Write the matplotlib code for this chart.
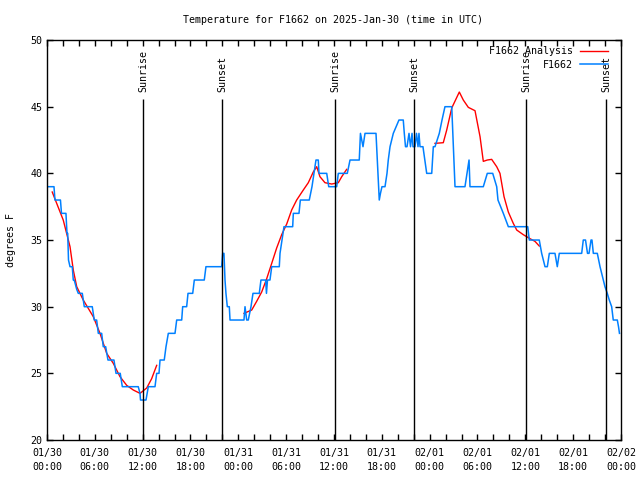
import pandas as pd
import matplotlib
matplotlib.use('Agg')
import matplotlib.pyplot as plt
import matplotlib.dates as mdates

plt.rcParams['font.family'] = 'DejaVu Sans Mono'
plt.rcParams['font.size'] = 7.2

start = pd.Timestamp('2025-01-30 00:00')

# observed temperature (hours since start, degrees F)
obs_hours = [0.13, 0.88, 1.00, 1.69, 1.82, 2.38, 2.51, 2.60, 2.70, 2.89, 3.17, 3.30, 3.42, 3.73,
             3.93, 4.43, 4.68, 5.68, 5.93, 6.23, 6.44, 6.86, 7.06, 7.36, 7.65, 8.40, 8.66, 9.19,
             9.45, 11.45, 11.67, 11.73, 12.42, 12.71, 13.55, 13.76, 14.05, 14.18, 14.71, 14.93,
             15.22, 16.06, 16.27, 16.90, 17.02, 17.52, 17.69, 18.28, 18.48, 19.73, 19.94, 21.91,
             22.04, 22.20, 22.33, 22.45, 22.62, 22.87, 22.96, 24.71, 24.84, 25.05, 25.25, 25.59,
             25.84, 26.63, 26.84, 27.43, 27.53, 27.66, 27.97, 28.19, 29.14, 29.23, 29.73, 30.82,
             30.90, 31.61, 31.78, 32.90, 33.24, 33.62, 33.74, 34.03, 34.12, 35.09, 35.34, 36.34,
             36.54, 37.67, 38.01, 39.17, 39.32, 39.64, 39.89, 41.27, 41.68, 41.83, 42.02, 42.40,
             42.65, 42.81, 43.03, 43.44, 44.15, 44.49, 44.69, 44.82, 44.97, 45.16, 45.41, 45.60,
             45.79, 45.91, 46.16, 46.35, 46.54, 46.66, 46.79, 47.16, 47.63, 48.26, 48.46, 48.67,
             49.21, 49.55, 49.92, 50.77, 51.18, 52.43, 52.94, 53.06, 54.73, 55.23, 55.91, 56.41,
             56.57, 57.24, 57.87, 60.30, 60.50, 61.75, 62.05, 62.47, 62.76, 63.01, 63.72, 64.01,
             64.26, 67.07, 67.27, 67.55, 67.80, 67.99, 68.24, 68.36, 68.53, 69.03, 69.37, 69.58,
             69.78, 69.99, 70.28, 70.53, 70.83, 71.03, 71.54, 71.69, 71.81]
obs_temp = [39, 39, 38, 38, 37, 37, 35.5, 35.5, 33.5, 33, 33, 32, 32, 31.3,
            31, 31, 30, 30, 29, 29, 28, 28, 27, 27, 26, 26, 25, 25,
            24, 24, 23.5, 23, 23, 24, 24, 25, 25, 26, 26, 27,
            28, 28, 29, 29, 30, 30, 31, 31, 32, 32, 33, 33,
            34, 34, 32, 31, 30, 30, 29, 29, 30, 29, 29, 30,
            31, 31, 32, 32, 31, 32, 32, 33, 33, 34, 36, 36,
            37, 37, 38, 38, 39, 40.5, 41, 41, 40, 40, 39, 39,
            40, 40, 41, 41, 43, 42, 43, 43, 38, 38.5, 39, 39,
            40, 41, 42, 43, 44, 44, 44, 43, 42, 42, 43, 42,
            43, 42, 42, 43, 42, 43, 42, 42, 40, 40, 42, 42,
            43, 44, 45, 45, 39, 39, 41, 39, 39, 40, 40, 39,
            38, 37, 36, 36, 35, 35, 34, 33, 33, 34, 34, 33,
            34, 34, 35, 35, 34, 34, 35, 35, 34, 34, 33, 32.5,
            32, 31.5, 31, 30.5, 30, 29, 29, 28.5, 28]

# analysis curve, three separate segments
ana1_hours = [0.66, 2.04, 2.89, 3.30, 3.73, 4.55, 5.81, 6.65, 7.49, 8.32, 9.16, 10.00, 10.83,
              11.67, 12.51, 13.13, 13.76]
ana1_temp = [38.6, 36.5, 34.5, 32.75, 31.5, 30.5, 29.25, 28.0, 26.5, 25.75, 24.75, 24.1, 23.75,
             23.5, 23.9, 24.6, 25.6]
ana2_hours = [24.71, 25.68, 26.30, 26.93, 27.56, 28.19, 28.81, 29.44, 30.07, 30.69, 31.32, 32.15,
              32.78, 33.40, 33.83, 34.24, 34.87, 35.71, 36.54, 36.97, 37.59]
ana2_temp = [29.5, 29.75, 30.4, 31.1, 32.1, 33.25, 34.4, 35.4, 36.2, 37.25, 38.0, 38.75,
             39.3, 40.1, 40.5, 39.75, 39.3, 39.2, 39.3, 39.75, 40.3]
ana3_hours = [48.67, 49.71, 50.14, 50.77, 51.72, 52.22, 52.85, 53.69, 54.32, 54.73, 55.23, 55.78,
              56.41, 56.82, 57.33, 57.87, 58.49, 58.92, 59.75, 60.59, 61.21, 61.75]
ana3_temp = [42.25, 42.3, 43.25, 44.9, 46.1, 45.5, 44.95, 44.7, 42.75, 40.9, 41.0, 41.05,
             40.5, 40.0, 38.25, 37.1, 36.25, 35.75, 35.4, 35.1, 34.9, 34.55]

sun_times = ['2025-01-30 12:02', '2025-01-30 21:57', '2025-01-31 12:08',
             '2025-01-31 22:02', '2025-02-01 12:05', '2025-02-01 22:07']
sun_labels = ['Sunrise', 'Sunset', 'Sunrise', 'Sunset', 'Sunrise', 'Sunset']


def to_time(hours):
    return start + pd.to_timedelta(hours, unit='h')


fig = plt.figure(figsize=(6.4, 4.8), dpi=100)
ax = fig.add_axes([0.0734, 0.0833, 0.8969, 0.8333])

red = '#ff0000'
blue = '#0080ff'
ax.plot(to_time(ana1_hours), ana1_temp, color=red, lw=1.0, label='F1662 Analysis')
ax.plot(to_time(ana2_hours), ana2_temp, color=red, lw=1.0)
ax.plot(to_time(ana3_hours), ana3_temp, color=red, lw=1.0)
ax.plot(to_time(obs_hours), obs_temp, color=blue, lw=1.1, label='F1662')

# sunrise / sunset markers
for t, lab in zip(sun_times, sun_labels):
    t = pd.Timestamp(t)
    ax.vlines(t, 20, 45.6, color='black', lw=1.0)
    ax.text(t, 46.1, lab, rotation=90, ha='center', va='bottom')

ax.set_xlim(start, start + pd.Timedelta(hours=72))
ax.set_ylim(20, 50)
ax.set_yticks(range(20, 51, 5))
ax.xaxis.set_major_locator(mdates.HourLocator(byhour=[0, 6, 12, 18]))
ax.xaxis.set_minor_locator(mdates.HourLocator(byhour=range(0, 24, 2)))
ax.xaxis.set_major_formatter(mdates.DateFormatter('%m/%d\n%H:%M'))
ax.tick_params(which='both', direction='in', top=True, right=True, length=4, width=1)
ax.tick_params(axis='x', pad=6)

for s in ax.spines.values():
    s.set_linewidth(1.0)

ax.set_ylabel('degrees F')
ax.yaxis.set_label_coords(-0.054, 0.5)
fig.text(0.52, 0.958, 'Temperature for F1662 on 2025-Jan-30 (time in UTC)', ha='center', va='center')

ax.legend(loc='upper right', bbox_to_anchor=(0.985, 0.995), frameon=False, markerfirst=False,
          handlelength=2.8, borderaxespad=0, labelspacing=0.35, handletextpad=0.75)

fig.canvas.draw()
for lab in ax.get_xticklabels():
    lab.set_linespacing(1.45)

fig.savefig('out.png', dpi=100)
